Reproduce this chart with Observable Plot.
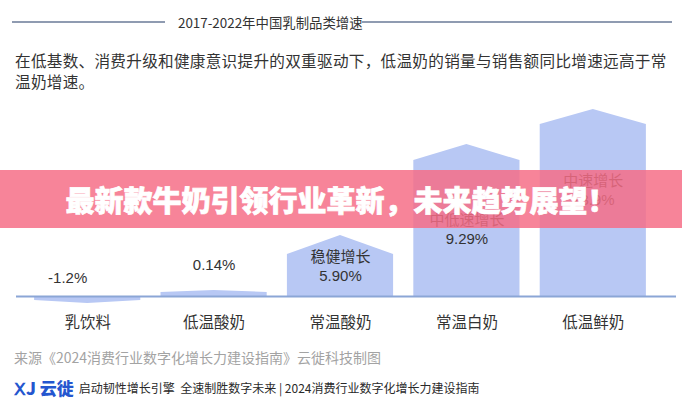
<!DOCTYPE html>
<html><head><meta charset="utf-8">
<script src="https://cdn.jsdelivr.net/npm/d3@7"></script>
<script src="https://cdn.jsdelivr.net/npm/@observablehq/plot@0.6"></script>
<style>
html,body{margin:0;padding:0;background:#fff;}
body{width:682px;height:400px;overflow:hidden;position:relative;font-family:"Noto Sans CJK SC","Noto Sans",sans-serif;color:#333;}
#chart{position:absolute;left:0;top:100px;}
.tline{position:absolute;top:21px;height:2px;background:#8f9bb1;}
#title{position:absolute;top:11px;left:178px;font-size:13.4px;line-height:22px;color:#333;white-space:nowrap;}
#para{position:absolute;top:50px;left:15px;font-size:15.6px;line-height:21px;color:#333;letter-spacing:0.3px;white-space:nowrap;}
#source{position:absolute;top:347px;left:14px;font-size:14px;line-height:20px;color:#a3a3a3;white-space:nowrap;}
#footer{position:absolute;top:375px;left:14px;white-space:nowrap;line-height:20px;}
#footer .logo{color:#2456cf;font-weight:900;font-size:17px;vertical-align:middle;}
#footer .slogan{color:#2a2a2a;font-size:12px;margin-left:5px;vertical-align:middle;}
#banner{position:absolute;left:0;top:170px;width:682px;height:58px;background:rgba(246,108,134,0.84);color:#fff;font-size:29px;font-weight:900;line-height:58px;text-align:center;white-space:nowrap;-webkit-text-stroke:0.7px #fff;}
</style>
</head><body>
<div id="chart"></div>
<div class="tline" style="left:12px;width:153px"></div>
<div class="tline" style="left:362px;width:310px"></div>
<div id="title">2017-2022年中国乳制品类增速</div>
<div id="para">在低基数、消费升级和健康意识提升的双重驱动下，低温奶的销量与销售额同比增速远高于常<br>温奶增速。</div>
<div id="source">来源《2024消费行业数字化增长力建设指南》云徙科技制图</div>
<div id="footer"><span class="logo">ꓫJ 云徙</span><span class="slogan">启动韧性增长引擎&nbsp; 全速制胜数字未来 | 2024消费行业数字化增长力建设指南</span></div>
<div id="banner">最新款牛奶引领行业革新，未来趋势展望！</div>
<script>
// ---- data ----
const categories = ["乳饮料", "低温酸奶", "常温酸奶", "常温白奶", "低温鲜奶"];
const growthLabels = ["-1.2%", "0.14%", "5.90%", "9.29%", "13.9%"];
const growthTags = ["", "", "稳健增长", "中低速增长", "中速增长"];
// drawn bar heights (visual level of the bar's shoulders and its pointed tip)
const barShoulder = [-4, 4, 42, 136, 172];
const barPeak = [-7, 6, 61, 152, 187];

// ---- layout (not data) ----
const half = 0.42;
const valueLift = [18, 31, 20, 57, 96];
const tagGap = 19;
const barColor = "#b8c8f4";

const shapePts = categories.flatMap((c, i) => [
  {c, x: i - half, y: barShoulder[i]},
  {c, x: i, y: barPeak[i]},
  {c, x: i + half, y: barShoulder[i]}
]);
const labelRows = categories.map((c, i) => ({c, i, v: growthLabels[i], t: growthTags[i], ly: valueLift[i]}));

const font = '"Liberation Sans","Noto Sans CJK SC",sans-serif';
const chart = Plot.plot({
  width: 682,
  height: 240,
  marginLeft: 16,
  marginRight: 6,
  marginTop: 0,
  marginBottom: 30,
  style: {background: "transparent", fontFamily: font, fontSize: "14px", color: "#333", overflow: "visible"},
  x: {type: "linear", domain: [-0.5, 4.5], range: [24, 656], axis: null},
  y: {domain: [0, 190], range: [196, 6], axis: null},
  marks: [
    Plot.areaY(shapePts, {x: "x", y1: 0, y2: "y", z: "c", fill: barColor, curve: "linear"}),
    Plot.ruleY([0], {stroke: "#8ba6d6", strokeWidth: 2}),
    Plot.text(labelRows.filter(d => d.i > 0), {x: "i", y: "ly", text: "v", fill: "#333", fontSize: 15, fontFamily: font}),
    Plot.text(labelRows.filter(d => d.i === 0), {x: "i", y: "ly", text: "v", fill: "#333", fontSize: 15, fontFamily: font, dx: -20}),
    Plot.text(labelRows.filter(d => d.t), {x: "i", y: d => d.ly + tagGap, text: "t", fill: "#333", fontSize: 15, fontFamily: font}),
    Plot.axisX({ticks: [0, 1, 2, 3, 4], tickFormat: i => categories[i], tickSize: 0, tickPadding: 6, fontSize: 15.5, fill: "#333", fontFamily: font})
  ]
});
document.getElementById("chart").appendChild(chart);
</script>
</body></html>
